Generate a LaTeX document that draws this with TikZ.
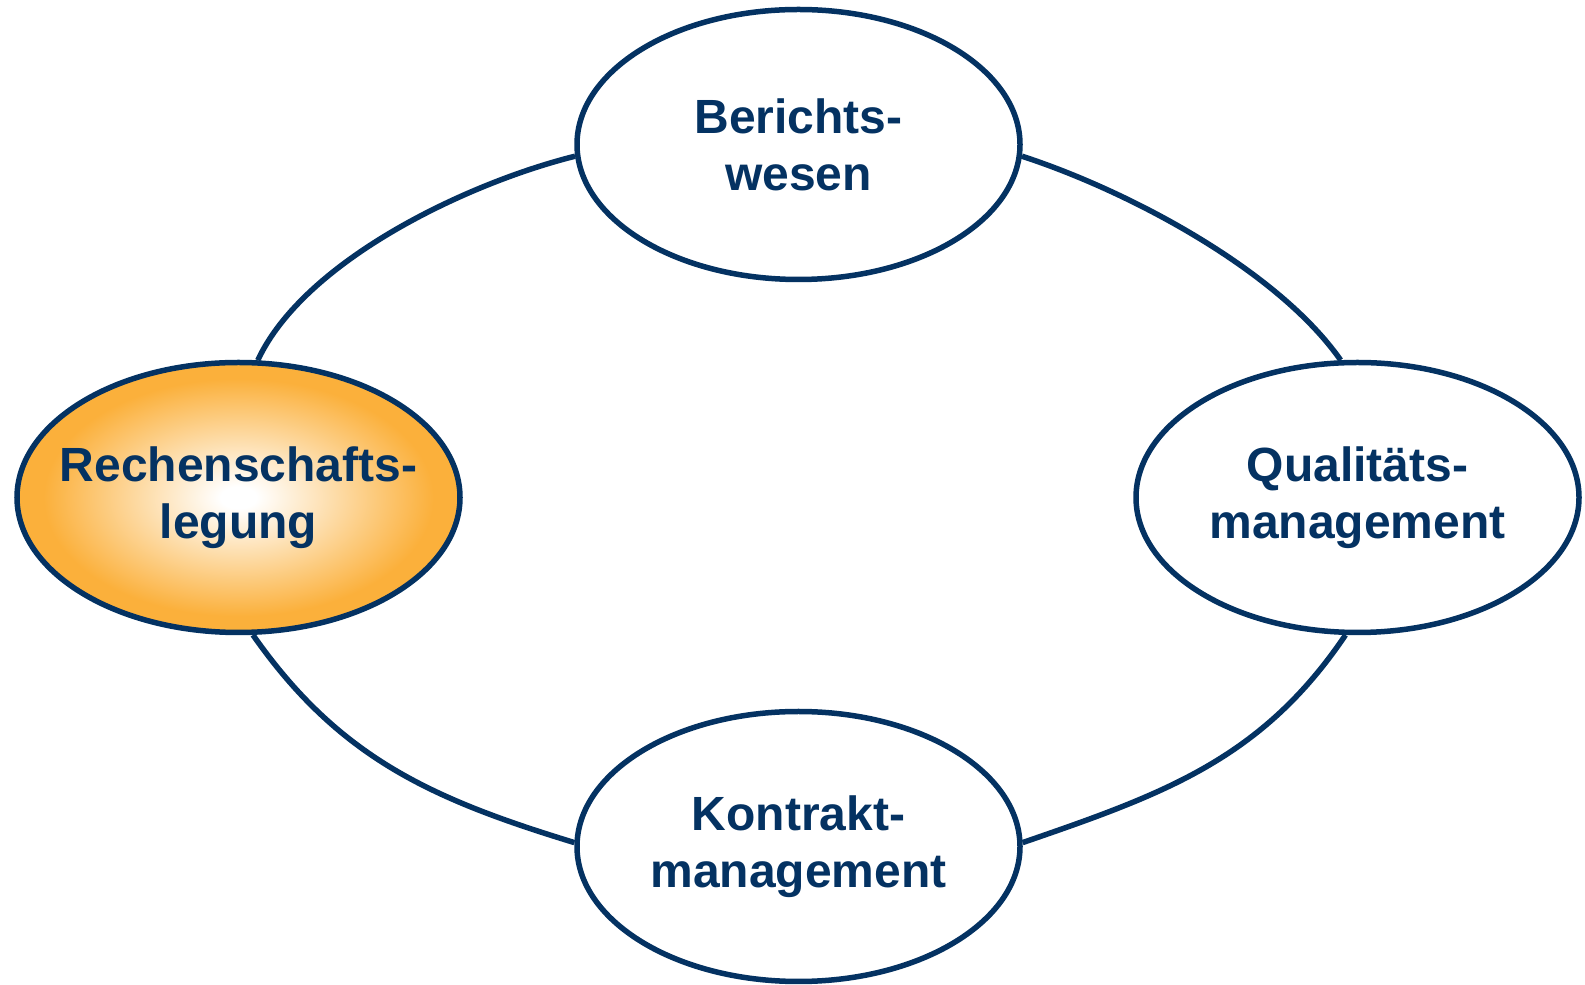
\documentclass[tikz,border=0pt]{standalone}
\usepackage{fontspec}
\setmainfont{Liberation Sans}
\usepackage{tikz}
\usetikzlibrary{shapes}
\definecolor{navy}{RGB}{4,50,98}
\definecolor{glowgold}{RGB}{251,176,59}
\pgfdeclareradialshading{glow}{\pgfpoint{0bp}{0bp}}{color(0bp)=(white); color(2bp)=(white); color(22bp)=(glowgold); color(50bp)=(glowgold)}
\newcommand{\cyclenode}[3] {\node at (#1) (#2) [topic, fill=white] {#3};}
\newcommand{\cycleglownode}[3] {\node at (#1) (#2) [topic, shading=glow] {#3};}
\newcommand{\cyclearc}[5] {\draw [link] (#1) to[out=#3, in=#4, looseness=#5] (#2);}

\begin{document}
\begin{tikzpicture}[x=1pt, y=1pt,
  topic/.style={ellipse, draw=navy, line width=5.5pt, minimum width=443pt, minimum height=270pt,
    inner xsep=-30pt, inner ysep=0pt, align=center, text=navy, font=\fontsize{48}{57}\selectfont\bfseries},
  link/.style={draw=navy, line width=5.5pt}]
\useasboundingbox (0,0) rectangle (1585,985);
\cyclenode {798.5, 840.5}{Bericht}{Berichts-\\wesen}
\cycleglownode {238.5, 487.5}{Rechenschaft}{Rechenschafts-\\legung}
\cyclenode {1357.5, 487.5}{Qualitaet}{Qualitäts-\\management}
\cyclenode {798.5, 138.5}{Kontrakt}{Kontrakt-\\management}
\cyclearc {Bericht.183}{Rechenschaft.82}{194}{65}{0.75}
\cyclearc {Bericht.357}{Qualitaet.97}{-18}{125}{0.75}
\cyclearc {Rechenschaft.276}{Kontrakt.179}{-55}{163}{1}
\cyclearc {Qualitaet.265}{Kontrakt.1}{236}{19}{1}
\end{tikzpicture}
\end{document}
